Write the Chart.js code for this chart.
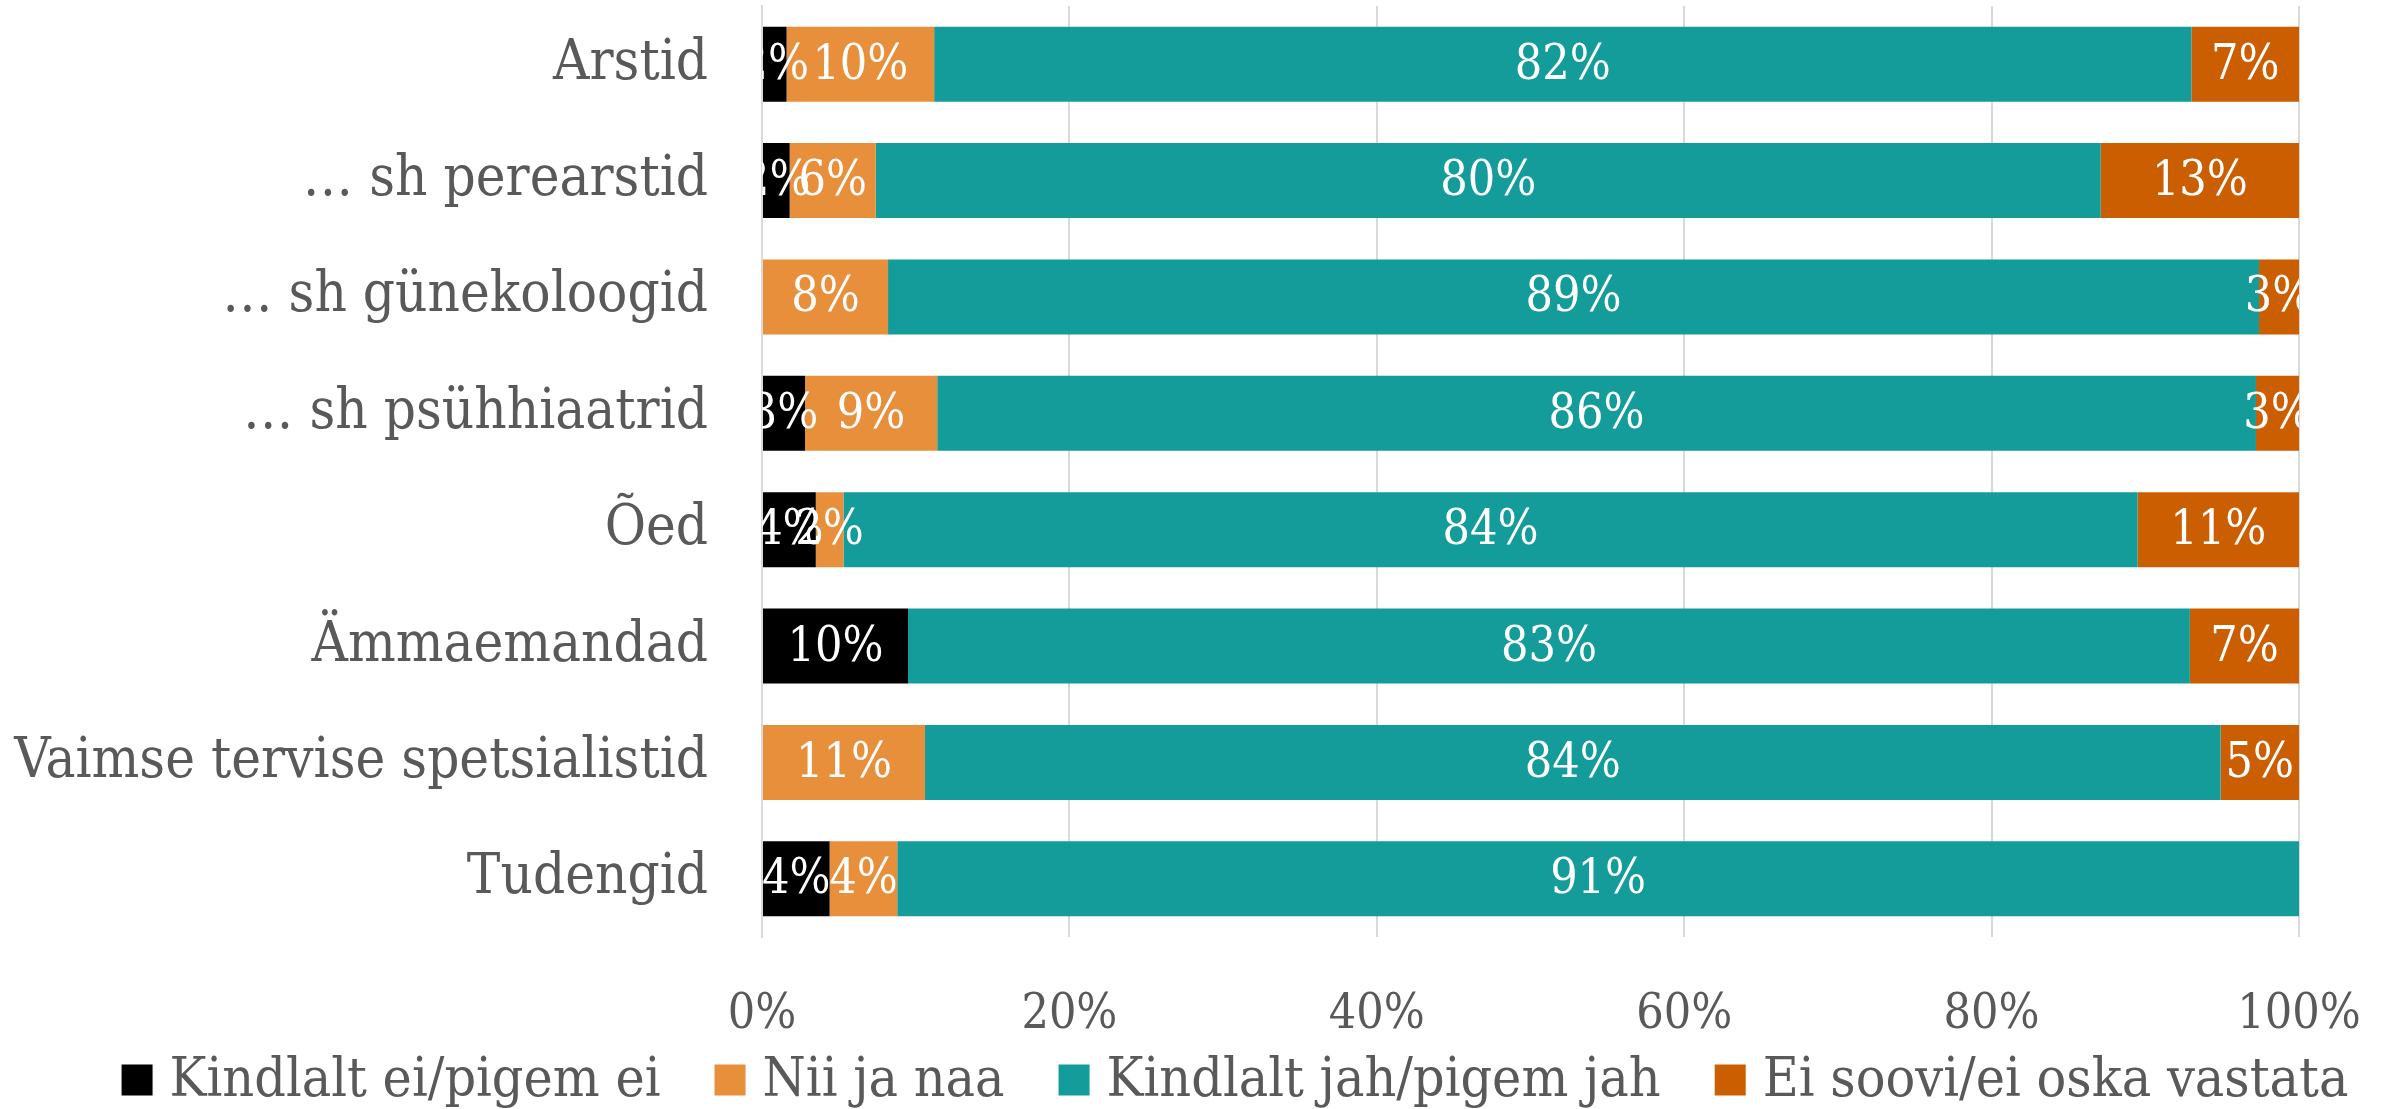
<!DOCTYPE html>
<html lang="et">
<head>
    <meta charset="utf-8" />
    <title>Hoiakud</title>
    <script src="https://cdn.jsdelivr.net/npm/chart.js"></script>
    <style>
        html, body { margin: 0; padding: 0; background: #fff; }
        #wrap { width: 2387px; height: 1109px; }
    </style>
</head>
<body>
    <div id="wrap"><canvas id="chart"></canvas></div>
    <script>
        const categories = [
            'Arstid',
            '… sh perearstid',
            '… sh günekoloogid',
            '… sh psühhiaatrid',
            'Õed',
            'Ämmaemandad',
            'Vaimse tervise spetsialistid',
            'Tudengid'
        ];
        const seriesNames = [
            'Kindlalt ei/pigem ei',
            'Nii ja naa',
            'Kindlalt jah/pigem jah',
            'Ei soovi/ei oska vastata'
        ];
        const kindlaltEi  = [1.6, 1.8, 0,   2.8, 3.5, 9.5, 0,    4.4];
        const niiJaNaa    = [9.6, 5.6, 8.2, 8.6, 1.8, 0,   10.6, 4.4];
        const kindlaltJah = [81.8, 79.7, 89.2, 85.8, 84.2, 83.4, 84.3, 91.2];
        const eiSoovi     = [7.0, 12.9, 2.6, 2.8, 10.5, 7.1, 5.1, 0];
        const xTicks = [0, 20, 40, 60, 80, 100];

        const colors = ['#000000', '#E88F3C', '#149C9B', '#CB5E00'];
        const FONT = "'DejaVu Serif Condensed', 'DejaVu Serif', serif";

        // white percentage labels in the middle of each segment, clipped to the plot
        const barLabels = {
            id: 'barLabels',
            afterDatasetsDraw(chart) {
                const { ctx, chartArea } = chart;
                ctx.save();
                ctx.beginPath();
                ctx.rect(chartArea.left, chartArea.top, chartArea.width, chartArea.height);
                ctx.clip();
                ctx.font = '48px ' + FONT;
                ctx.fillStyle = '#ffffff';
                ctx.textAlign = 'center';
                ctx.textBaseline = 'middle';
                chart.data.datasets.forEach((ds, i) => {
                    chart.getDatasetMeta(i).data.forEach((bar, j) => {
                        const v = ds.data[j];
                        if (!v) return;
                        const p = bar.getProps(['x', 'y', 'base'], true);
                        ctx.fillText(Math.round(v) + '%', (p.x + p.base) / 2, p.y + 2);
                    });
                });
                ctx.restore();
            }
        };

        // one-row legend under the axis labels (built-in one wraps / clips here)
        const bottomLegend = {
            id: 'bottomLegend',
            afterDraw(chart) {
                const ctx = chart.ctx;
                const box = 31, gapText = 17, gapItem = 54, cy = 1080, cx = 1235;
                ctx.save();
                ctx.font = '55px ' + FONT;
                ctx.textBaseline = 'middle';
                ctx.textAlign = 'left';
                const items = chart.data.datasets.map(ds => ({
                    text: ds.label,
                    color: ds.backgroundColor,
                    w: box + gapText + ctx.measureText(ds.label).width
                }));
                const total = items.reduce((s, it) => s + it.w, 0) + gapItem * (items.length - 1);
                let x = cx - total / 2;
                items.forEach(it => {
                    ctx.fillStyle = it.color;
                    ctx.fillRect(x, cy - box / 2, box, box);
                    ctx.fillStyle = '#595959';
                    ctx.fillText(it.text, x + box + gapText, cy + 2);
                    x += it.w + gapItem;
                });
                ctx.restore();
            }
        };

        const seriesData = [kindlaltEi, niiJaNaa, kindlaltJah, eiSoovi];

        new Chart(document.getElementById('chart'), {
            type: 'bar',
            data: {
                labels: categories,
                datasets: seriesNames.map((name, i) => ({
                    label: name,
                    data: seriesData[i],
                    backgroundColor: colors[i],
                    borderWidth: 0,
                    categoryPercentage: 1,
                    barPercentage: 0.645
                }))
            },
            options: {
                indexAxis: 'y',
                responsive: true,
                maintainAspectRatio: false,
                animation: false,
                layout: { padding: { top: 6, right: 88, left: 0, bottom: 52 } },
                scales: {
                    x: {
                        stacked: true,
                        min: 0,
                        max: 100,
                        afterBuildTicks: (axis) => { axis.ticks = xTicks.map(v => ({ value: v })); },
                        afterFit: (axis) => {
                            axis.height = 120;
                            axis.paddingLeft = 0;
                            axis.paddingRight = 0;
                        },
                        ticks: {
                            callback: (v) => v + '%',
                            color: '#595959',
                            font: { family: FONT, size: 48 },
                            padding: 50,
                            maxRotation: 0
                        },
                        grid: { color: '#d9d9d9', lineWidth: 2, drawTicks: false },
                        border: { display: false }
                    },
                    y: {
                        stacked: true,
                        afterFit: (axis) => {
                            axis.width = 762;
                            axis.paddingTop = 0;
                            axis.paddingBottom = 0;
                        },
                        ticks: {
                            color: '#595959',
                            font: { family: FONT, size: 56 },
                            padding: 54
                        },
                        grid: { display: false, drawTicks: false },
                        border: { display: true, color: '#d9d9d9', width: 2 }
                    }
                },
                plugins: {
                    legend: { display: false },
                    tooltip: { enabled: false }
                }
            },
            plugins: [barLabels, bottomLegend]
        });
    </script>
</body>
</html>
